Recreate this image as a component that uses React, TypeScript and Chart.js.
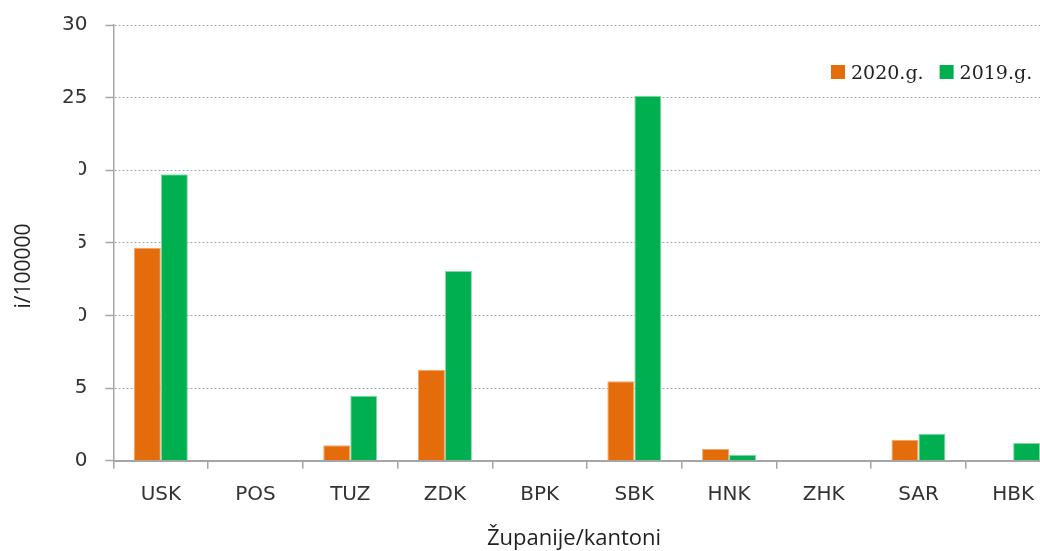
import React, { useEffect, useRef } from "react";
import { Chart, registerables } from "chart.js";

Chart.register(...registerables);

const categories = ["USK", "POS", "TUZ", "ZDK", "BPK", "SBK", "HNK", "ZHK", "SAR", "HBK"];
const values2020 = [14.67, 0, 1.06, 6.27, 0, 5.47, 0.81, 0, 1.43, 0];
const values2019 = [19.72, 0, 4.48, 13.06, 0, 25.12, 0.41, 0, 1.86, 1.22];
const yTickValues = [0, 5, 10, 15, 20, 25, 30];
const seriesLabels = ["2020.g.", "2019.g."];
const xTitle = "Županije/kantoni";
const yTitle = "i/100000";

const ORANGE = "#E46C0A";
const GREEN = "#00B050";
const AXIS = "#a6a6a6";
const TEXT = "#333333";

const overlayPlugin = {
  id: "overlay",
  afterDraw(chart: any) {
    const ctx = chart.ctx as CanvasRenderingContext2D;
    ctx.save();
    // white box (title area) hiding part of the tick labels, as in the source image
    ctx.fillStyle = "#ffffff";
    ctx.fillRect(38, 118, 41, 222);

    // y title
    ctx.save();
    ctx.translate(24, 266);
    ctx.rotate(-Math.PI / 2);
    ctx.font = "21px 'Open Sans'";
    ctx.fillStyle = "#222";
    ctx.textAlign = "center";
    ctx.textBaseline = "middle";
    ctx.fillText(yTitle, 0, 0);
    ctx.restore();

    // x title
    ctx.font = "22px 'Open Sans'";
    ctx.fillStyle = "#222";
    ctx.textAlign = "center";
    ctx.textBaseline = "alphabetic";
    ctx.fillText(xTitle, 574, 545);

    // legend
    ctx.font = "19px 'DejaVu Serif'";
    ctx.textAlign = "left";
    ctx.textBaseline = "alphabetic";
    let x = 831;
    chart.data.datasets.forEach((ds: any) => {
      ctx.fillStyle = ds.backgroundColor;
      ctx.fillRect(x, 65, 14, 14);
      ctx.fillStyle = "#222";
      ctx.fillText(ds.label, x + 20, 78.5);
      x += 20 + ctx.measureText(ds.label).width + 16;
    });
    ctx.restore();
  },
};

export default function App() {
  const canvasRef = useRef<HTMLCanvasElement | null>(null);

  useEffect(() => {
    if (!canvasRef.current) return;
    const tickFont = { family: "'DejaVu Sans'", size: 20 };
    const chart = new Chart(canvasRef.current, {
      type: "bar",
      data: {
        labels: categories,
        datasets: [
          {
            label: seriesLabels[0],
            data: values2020,
            backgroundColor: ORANGE,
            borderColor: "#F3A66A",
            borderWidth: 1,
          },
          {
            label: seriesLabels[1],
            data: values2019,
            backgroundColor: GREEN,
            borderColor: "#7FDCA5",
            borderWidth: 1,
          },
        ],
      },
      options: {
        animation: false,
        responsive: true,
        maintainAspectRatio: false,
        devicePixelRatio: 1,
        layout: { padding: { left: 0, top: 25, right: 19.5, bottom: 0 } },
        datasets: {
          bar: { barPercentage: 1, categoryPercentage: 0.57 },
        },
        plugins: {
          legend: { display: false },
          tooltip: { enabled: false },
          title: { display: false },
        },
        scales: {
          x: {
            offset: true,
            grid: {
              display: true,
              offset: true,
              drawOnChartArea: false,
              drawTicks: true,
              tickLength: 8,
              color: AXIS,
              tickColor: AXIS,
              lineWidth: 1.5,
              tickWidth: 1.5,
            },
            border: { display: true, color: AXIS, width: 2 },
            ticks: {
              font: tickFont,
              color: TEXT,
              padding: 14,
              maxRotation: 0,
              autoSkip: false,
            },
            afterFit(scale: any) {
              scale.height = 90.3;
              scale.paddingLeft = 0;
              scale.paddingRight = 0;
            },
          },
          y: {
            min: 0,
            max: 30,
            afterBuildTicks(scale: any) {
              scale.ticks = yTickValues.map((v) => ({ value: v }));
            },
            grid: {
              display: true,
              drawOnChartArea: true,
              drawTicks: true,
              tickLength: 8,
              color: AXIS,
              tickColor: AXIS,
              lineWidth: 1,
              tickWidth: 1.5,
              tickBorderDash: [],
            },
            border: { display: true, color: AXIS, width: 1.5, dash: [2, 2] },
            ticks: {
              font: tickFont,
              color: TEXT,
              padding: 18,
            },
            afterFit(scale: any) {
              scale.width = 113.5;
              scale.paddingTop = 0;
              scale.paddingBottom = 0;
            },
          },
        },
      },
      plugins: [overlayPlugin],
    });
    return () => chart.destroy();
  }, []);

  return (
    <div
      style={{
        position: "fixed",
        left: 0,
        top: 0,
        width: 1040,
        height: 551,
        overflow: "hidden",
        background: "#fff",
      }}
    >
      <div style={{ position: "relative", width: 1080, height: 551 }}>
        <canvas ref={canvasRef} />
      </div>
    </div>
  );
}
